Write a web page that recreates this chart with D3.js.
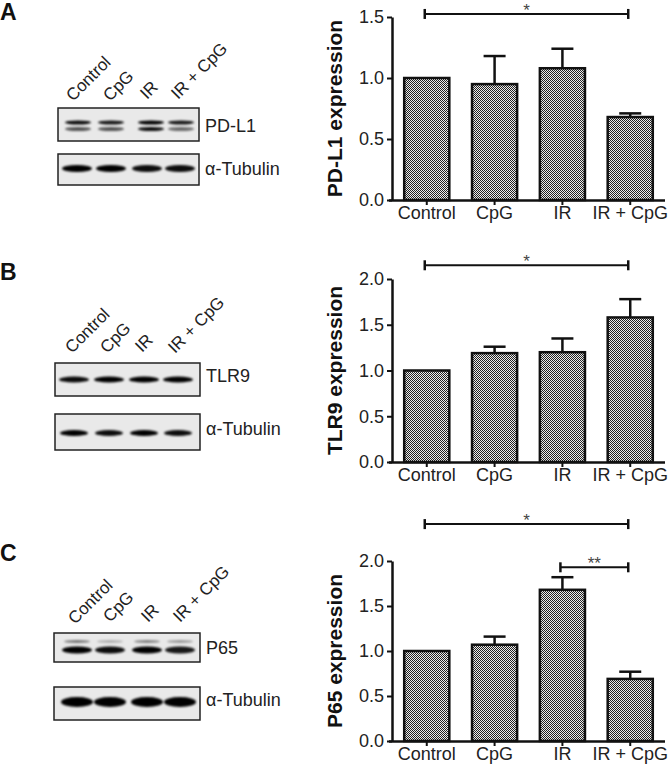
<!DOCTYPE html>
<html>
<head>
<meta charset="utf-8">
<script src="https://cdn.jsdelivr.net/npm/d3@7"></script>
<style>
body { margin: 0; background: #fff; }
text { font-family: "Liberation Sans", Arial, sans-serif; }
</style>
</head>
<body>
<div id="fig"></div>
<script>
// groups + values
var groups = ["Control", "CpG", "IR", "IR + CpG"];

var pdl1Mean = [1.0, 0.95, 1.08, 0.68];
var pdl1Err  = [0, 0.23, 0.16, 0.03];
var tlr9Mean = [1.0, 1.19, 1.20, 1.58];
var tlr9Err  = [0, 0.07, 0.15, 0.20];
var p65Mean  = [1.0, 1.07, 1.68, 0.69];
var p65Err   = [0, 0.09, 0.14, 0.08];

var ticksA = [0, 0.5, 1.0, 1.5];
var ticksBC = [0, 0.5, 1.0, 1.5, 2.0];

// significance brackets: [from, to, level, label]
var sigA = [["Control", "IR + CpG", 1.525, "*"]];
var sigB = [["Control", "IR + CpG", 2.15, "*"]];
var sigC = [["Control", "IR + CpG", 2.41, "*"], ["IR", "IR + CpG", 1.93, "**"]];

// blot band intensities per lane
var pdl1Upper = [0.95, 0.9, 1, 0.9];
var pdl1Lower = [0.65, 0.65, 0.95, 0.55];
var tubA = [1, 1, 0.95, 0.95];
var tlr9Band = [0.95, 1, 1, 1];
var tubB = [1, 0.95, 1, 0.95];
var p65Upper = [0.5, 0.25, 0.45, 0.35];
var p65Main = [1, 0.95, 1, 0.9];
var tubC = [1, 1, 1, 1];

var W = 668, H = 769;
var svg = d3.select("#fig").append("svg")
    .attr("width", W)
    .attr("height", H);

var defs = svg.append("defs");
var pat = defs.append("pattern")
    .attr("id", "checker")
    .attr("patternUnits", "userSpaceOnUse")
    .attr("width", 2).attr("height", 2);
pat.append("rect").attr("width", 2).attr("height", 2).attr("fill", "#ececec");
pat.append("rect").attr("width", 1).attr("height", 1).attr("fill", "#222");
pat.append("rect").attr("x", 1).attr("y", 1).attr("width", 1).attr("height", 1).attr("fill", "#222");

defs.append("filter").attr("id", "blur")
    .attr("x", "-30%").attr("y", "-100%").attr("width", "160%").attr("height", "300%")
  .append("feGaussianBlur").attr("stdDeviation", 1.2);

var x = d3.scaleBand()
    .domain(groups)
    .range([392, 665])
    .paddingInner(0.335)
    .paddingOuter(0.18);

function barChart(mean, err, yBottom, yTop, maxV, ticks, sig, label) {
    var y = d3.scaleLinear().domain([0, maxV]).range([yBottom, yTop]);
    var g = svg.append("g");
    var data = groups.map(function (d, i) { return {name: d, m: mean[i], e: err[i]}; });
    var cx = function (d) { return x(d) + x.bandwidth() / 2; };

    // error bars (drawn first so bar outline covers base)
    var eb = g.selectAll(".err").data(data.filter(function (d) { return d.e > 0; }))
        .enter().append("g");
    eb.append("line")
        .attr("x1", function (d) { return cx(d.name); })
        .attr("x2", function (d) { return cx(d.name); })
        .attr("y1", function (d) { return y(d.m); })
        .attr("y2", function (d) { return y(d.m + d.e); })
        .attr("stroke", "#111").attr("stroke-width", 2.5);
    eb.append("line")
        .attr("x1", function (d) { return cx(d.name) - 11; })
        .attr("x2", function (d) { return cx(d.name) + 11; })
        .attr("y1", function (d) { return y(d.m + d.e); })
        .attr("y2", function (d) { return y(d.m + d.e); })
        .attr("stroke", "#111").attr("stroke-width", 2.5);

    g.selectAll(".bar").data(data).enter().append("rect")
        .attr("x", function (d) { return x(d.name); })
        .attr("y", function (d) { return y(d.m); })
        .attr("width", x.bandwidth())
        .attr("height", function (d) { return y(0) - y(d.m); })
        .attr("fill", "url(#checker)")
        .attr("stroke", "#111")
        .attr("stroke-width", 2.5);

    var xa = g.append("g")
        .attr("transform", "translate(0," + yBottom + ")")
        .call(d3.axisBottom(x).tickSize(5).tickSizeOuter(0).tickPadding(1));
    xa.select(".domain").attr("d", "M389,0.5H665").attr("stroke", "#111").attr("stroke-width", 2.5);
    xa.selectAll(".tick line").attr("stroke", "#111").attr("stroke-width", 2);
    xa.selectAll(".tick text").attr("font-size", 18).attr("fill", "#222")
        .style("font-family", "'Liberation Sans', Arial, sans-serif");

    var ya = g.append("g")
        .attr("transform", "translate(392,0)")
        .call(d3.axisLeft(y).tickValues(ticks).tickFormat(d3.format(".1f")).tickSize(5).tickSizeOuter(0).tickPadding(3));
    ya.select(".domain").attr("stroke", "#111").attr("stroke-width", 2.5);
    ya.selectAll(".tick line").attr("stroke", "#111").attr("stroke-width", 2);
    ya.selectAll(".tick text").attr("font-size", 18).attr("fill", "#222")
        .style("font-family", "'Liberation Sans', Arial, sans-serif");

    g.append("text")
        .attr("transform", "translate(342," + ((yBottom + yTop) / 2) + ") rotate(-90)")
        .attr("text-anchor", "middle")
        .attr("font-size", 21)
        .attr("font-weight", "bold")
        .attr("fill", "#111")
        .text(label);

    sig.forEach(function (s) {
        var x1 = cx(s[0]) - 2, x2 = cx(s[1]) - 2, yy = y(s[2]);
        g.append("line").attr("x1", x1).attr("x2", x2).attr("y1", yy).attr("y2", yy)
            .attr("stroke", "#111").attr("stroke-width", 2);
        [x1, x2].forEach(function (xx) {
            g.append("line").attr("x1", xx).attr("x2", xx).attr("y1", yy - 5).attr("y2", yy + 5)
                .attr("stroke", "#111").attr("stroke-width", 2.5);
        });
        g.append("text")
            .attr("x", (x1 + x2) / 2)
            .attr("y", yy + 2)
            .attr("text-anchor", "middle")
            .attr("font-size", 17)
            .attr("fill", "#444")
            .text(s[3]);
    });
}

barChart(pdl1Mean, pdl1Err, 200, 17, 1.5, ticksA, sigA, "PD-L1 expression");
barChart(tlr9Mean, tlr9Err, 462, 279, 2.0, ticksBC, sigB, "TLR9 expression");
barChart(p65Mean, p65Err, 741, 561, 2.0, ticksBC, sigC, "P65 expression");

// panel letters
[["A", 20], ["B", 280], ["C", 561]].forEach(function (p) {
    svg.append("text").attr("x", 0).attr("y", p[1])
        .attr("font-size", 23).attr("font-weight", "bold").attr("fill", "#111")
        .text(p[0]);
});

// western blot boxes
function blot(x0, x1, y0, y1, lanes, bands, label, labelY) {
    var g = svg.append("g");
    g.append("rect").attr("x", x0).attr("y", y0).attr("width", x1 - x0).attr("height", y1 - y0)
        .attr("fill", "#e9e9e9").attr("stroke", "#222").attr("stroke-width", 1.5);
    bands.forEach(function (b) {
        g.append("g").attr("filter", "url(#blur)")
            .selectAll("ellipse").data(b.vals).enter().append("ellipse")
            .attr("cx", function (d, i) { return lanes[i]; })
            .attr("cy", b.y)
            .attr("rx", b.w / 2)
            .attr("ry", b.h / 2)
            .attr("fill", "#000")
            .attr("opacity", function (d) { return d; });
    });
    g.append("text").attr("x", x1 + 6).attr("y", labelY)
        .attr("font-size", 18).attr("fill", "#222").text(label);
}

function laneLabels(pos) {
    pos.forEach(function (p, i) {
        svg.append("text")
            .attr("transform", "translate(" + p[0] + "," + p[1] + ") rotate(-45)")
            .attr("font-size", 17).attr("fill", "#222")
            .text(groups[i]);
    });
}

laneLabels([[73, 102], [110, 102], [147, 100], [178, 100]]);
blot(58, 199, 108, 141, [78, 111, 151, 181],
    [{y: 122.5, h: 4, w: 26, vals: pdl1Upper}, {y: 129, h: 4, w: 26, vals: pdl1Lower}], "PD-L1", 132);
blot(58, 199, 154, 185, [77, 111, 147, 180],
    [{y: 168.5, h: 7, w: 30, vals: tubA}], "\u03b1-Tubulin", 175);

laneLabels([[72, 354], [107, 354], [142, 353], [175, 354]]);
blot(55, 200, 363, 396, [74, 109, 144, 178],
    [{y: 379.5, h: 6, w: 30, vals: tlr9Band}], "TLR9", 382);
blot(55, 200, 414, 450, [74, 109, 144, 178],
    [{y: 433, h: 6, w: 28, vals: tubB}], "\u03b1-Tubulin", 435);

laneLabels([[75, 625], [110, 623], [148, 623], [180, 623]]);
blot(54, 200, 633, 662, [77, 110, 147, 180],
    [{y: 641.5, h: 3, w: 26, vals: p65Upper}, {y: 650, h: 7, w: 30, vals: p65Main}], "P65", 654);
blot(54, 200, 687, 720, [77, 110, 147, 180],
    [{y: 702, h: 10, w: 32, vals: tubC}], "\u03b1-Tubulin", 706);
</script>
</body>
</html>
